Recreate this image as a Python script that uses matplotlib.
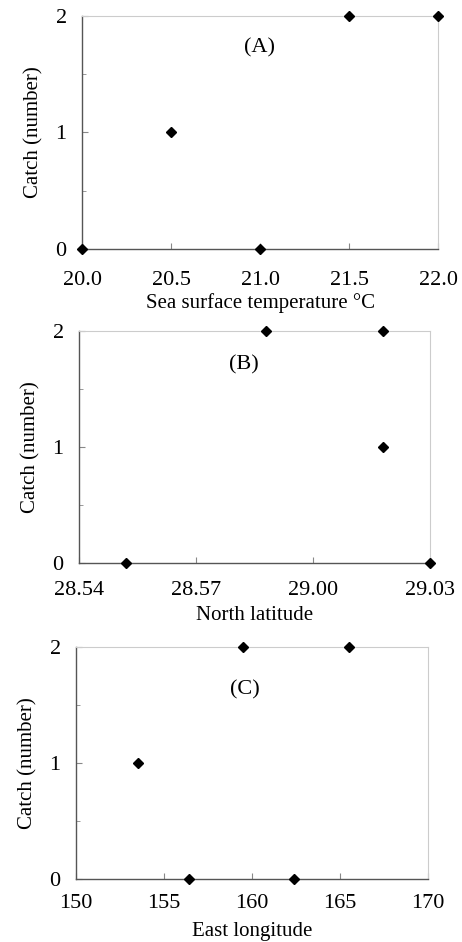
import matplotlib
matplotlib.use("Agg")
import matplotlib.pyplot as plt

# (A) sea surface temperature
sst = [20.0, 20.5, 21.0, 21.5, 22.0]
sst_catch = [0, 1, 0, 2, 2]
sst_ticks = [20.0, 20.5, 21.0, 21.5, 22.0]

# (B) north latitude, minutes past 28 deg
lat_min = [55.2, 58.8, 61.8, 61.8, 63.0]
lat_catch = [0, 2, 2, 1, 0]
lat_ticks = [54, 57, 60, 63]
lat_labels = ["28.54", "28.57", "29.00", "29.03"]

# (C) east longitude
lon = [153.5, 156.4, 159.5, 162.4, 165.5]
lon_catch = [1, 0, 2, 0, 2]
lon_ticks = [150, 155, 160, 165, 170]

plt.rcParams["font.family"] = ["Liberation Serif", "DejaVu Serif"]

fig = plt.figure(figsize=(4.62, 9.42), dpi=100)

# rect, x, y, xlim, ticks, tick labels, xlabel, tag, tag pos, tick pad, label pad
panels = [
    ([0.1775, 0.7357, 0.771, 0.2473], sst, sst_catch, (20.0, 22.0), sst_ticks,
     ["20.0", "20.5", "21.0", "21.5", "22.0"], "Sea surface temperature °C",
     "(A)", (0.497, 0.862), 16, 2),
    ([0.171, 0.4023, 0.760, 0.2463], lat_min, lat_catch, (54, 63), lat_ticks,
     lat_labels, "North latitude", "(B)", (0.47, 0.853), 13, 4),
    ([0.1645, 0.0669, 0.762, 0.2463], lon, lon_catch, (150, 170), lon_ticks,
     [str(t) for t in lon_ticks], "East longitude", "(C)", (0.48, 0.815), 11, 6),
]

for rect, xs, ys, xlim, ticks, labels, xlabel, tag, tag_xy, tpad, lpad in panels:
    ax = fig.add_axes(rect)
    ax.plot(xs, ys, linestyle="none", marker="D", markersize=5.5,
            color="black", clip_on=False, zorder=5)
    ax.set_xlim(*xlim)
    ax.set_ylim(0, 2)
    ax.set_xticks(ticks)
    ax.set_xticklabels(labels)
    ax.set_yticks([0, 1, 2])
    ax.set_yticks([0.5, 1.5], minor=True)
    ax.tick_params(axis="both", which="both", direction="in", length=4,
                   color="#888888", labelsize=16)
    ax.tick_params(axis="x", pad=tpad)
    ax.tick_params(axis="y", pad=11)
    ax.tick_params(axis="y", which="minor", length=3)
    for side in ("left", "bottom"):
        ax.spines[side].set_color("#555555")
        ax.spines[side].set_linewidth(1.0)
    for side in ("top", "right"):
        ax.spines[side].set_color("#cccccc")
        ax.spines[side].set_linewidth(0.8)
    ax.set_xlabel(xlabel, fontsize=15, labelpad=lpad)
    ax.set_ylabel("Catch (number)", fontsize=15, labelpad=9)
    ax.text(*tag_xy, tag, transform=ax.transAxes, ha="center",
            va="center", fontsize=16)

fig.savefig("out.png", dpi=100)
